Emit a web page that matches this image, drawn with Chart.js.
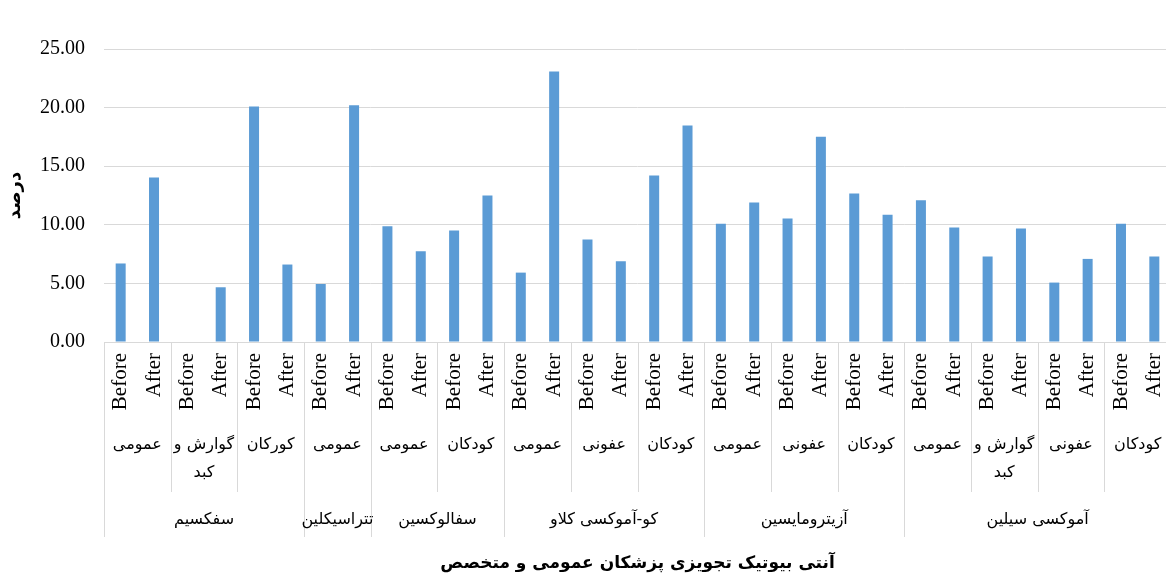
<!DOCTYPE html>
<html>
<head>
<meta charset="utf-8">
<script src="https://cdn.jsdelivr.net/npm/chart.js"></script>
<style>
  html, body { margin: 0; padding: 0; background: #fff; overflow: hidden; }
  #wrap { width: 1172px; height: 584px; }
</style>
</head>
<body>
<div id="wrap"><canvas id="chart"></canvas></div>
<script>
// data
const periods = ['Before', 'After'];
const specialties = ['عمومی', ['گوارش و', 'کبد'], 'کورکان', 'عمومی', 'عمومی', 'کودکان',
  'عمومی', 'عفونی', 'کودکان', 'عمومی', 'عفونی', 'کودکان',
  'عمومی', ['گوارش و', 'کبد'], 'عفونی', 'کودکان'];
const antibiotics = ['سفکسیم', 'تتراسیکلین', 'سفالوکسین', 'کو-آموکسی کلاو', 'آزیترومایسین', 'آموکسی سیلین'];
const antibioticSpans = [3, 1, 2, 3, 3, 4];
const percentValues = [6.70, 14.04, null, 4.67, 20.10, 6.61, 4.95, 20.19, 9.88, 7.75, 9.51, 12.50,
  5.92, 23.09, 8.74, 6.89, 14.21, 18.48, 10.08, 11.90, 10.54, 17.51, 12.67, 10.85,
  12.10, 9.77, 7.29, 9.68, 5.07, 7.09, 10.08, 7.29];
const yTicks = [0, 5, 10, 15, 20, 25];

const labels = specialties.flatMap(() => periods);
const gridColor = '#d9d9d9';
const faFont = "'DejaVu Sans', 'Noto Sans', sans-serif";

// draws the 2nd and 3rd rows of the category axis
const groupLabels = {
  id: 'groupLabels',
  afterDraw(chart) {
    const ctx = chart.ctx;
    const x = chart.scales.x;
    const top = x.top;
    const step = x.getPixelForValue(1) - x.getPixelForValue(0);
    const edge = i => x.getPixelForValue(i * 2) - step / 2;

    const groupEdges = new Set([0]);
    let s = 0;
    antibioticSpans.forEach(n => { s += n; groupEdges.add(s); });

    ctx.save();
    ctx.strokeStyle = gridColor;
    ctx.lineWidth = 1;
    for (let i = 0; i <= specialties.length; i++) {
      const xx = Math.round(edge(i)) + 0.5;
      ctx.beginPath();
      ctx.moveTo(xx, top);
      ctx.lineTo(xx, top + (groupEdges.has(i) ? 195 : 150));
      ctx.stroke();
    }

    ctx.fillStyle = '#000';
    ctx.textAlign = 'center';
    ctx.textBaseline = 'middle';
    ctx.font = '16px ' + faFont;
    specialties.forEach((sp, i) => {
      const cx = (edge(i) + edge(i + 1)) / 2;
      const lines = Array.isArray(sp) ? sp : [sp];
      lines.forEach((t, j) => ctx.fillText(t, cx, top + 103 + j * 28));
    });

    s = 0;
    antibiotics.forEach((name, k) => {
      const cx = (edge(s) + edge(s + antibioticSpans[k])) / 2;
      ctx.fillText(name, cx, top + 178);
      s += antibioticSpans[k];
    });
    ctx.restore();
  }
};

Chart.defaults.color = '#000';

new Chart(document.getElementById('chart'), {
  type: 'bar',
  data: {
    labels: labels,
    datasets: [{
      data: percentValues,
      backgroundColor: '#5b9bd5',
      barPercentage: 0.3,
      categoryPercentage: 1
    }]
  },
  options: {
    responsive: true,
    maintainAspectRatio: false,
    animation: false,
    layout: { padding: { top: 49, left: 0, right: 1, bottom: 0 } },
    plugins: {
      legend: { display: false },
      tooltip: { enabled: false }
    },
    scales: {
      x: {
        grid: { display: false, drawTicks: false },
        border: { display: true, color: gridColor },
        ticks: {
          autoSkip: false,
          minRotation: 90,
          maxRotation: 90,
          padding: 11,
          font: { family: "'Liberation Serif', 'Times New Roman', serif", size: 21 }
        },
        title: {
          display: true,
          text: 'آنتی بیوتیک تجویزی پزشکان عمومی و متخصص',
          font: { family: faFont, size: 17, weight: 'bold' },
          padding: { top: 0, bottom: 10 }
        },
        afterFit: scale => {
          scale.height = 242;
          scale.paddingLeft = 0;
          scale.paddingRight = 0;
        }
      },
      y: {
        min: 0,
        max: 25,
        afterBuildTicks: scale => { scale.ticks = yTicks.map(v => ({ value: v })); },
        grid: { color: gridColor, drawTicks: false },
        border: { display: false },
        ticks: {
          padding: 19,
          callback: v => v.toFixed(2),
          font: { family: "'Liberation Serif', 'Times New Roman', serif", size: 20 }
        },
        title: {
          display: true,
          text: 'درصد',
          font: { family: faFont, size: 18, weight: 'bold' },
          padding: { top: 5, bottom: 0 }
        },
        afterFit: scale => { scale.width = 104; }
      }
    }
  },
  plugins: [groupLabels]
});
</script>
</body>
</html>
